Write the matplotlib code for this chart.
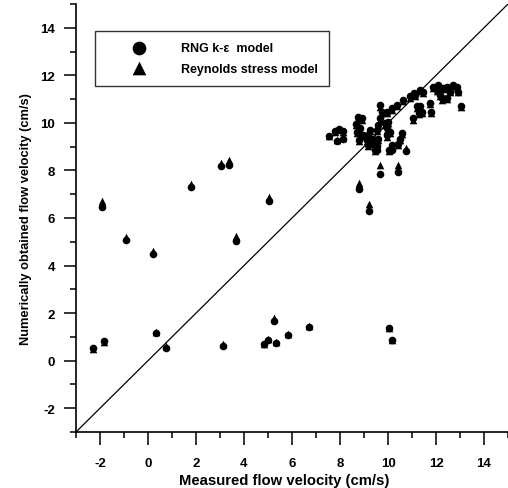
import matplotlib
matplotlib.use("Agg")
import matplotlib.pyplot as plt
from matplotlib.ticker import MultipleLocator

plt.rcParams['font.family'] = ['Liberation Sans', 'DejaVu Sans']
plt.rcParams['font.weight'] = 'bold'
plt.rcParams['axes.unicode_minus'] = False

# Measured velocity and the two numerical predictions (cm/s)
measured = [
    -2.31, -1.83, -1.90, -0.93, 0.19, 0.33, 0.75, 1.79, 3.03, 3.38, 3.13, 3.68,
    5.05, 4.85, 5.01, 5.33, 5.24, 5.83, 6.69, 10.03, 10.15,
    9.67, 10.43, 8.79, 9.21, 9.53, 10.15, 10.75,
    7.56, 7.79, 7.86, 7.97, 8.11, 8.11,
    8.76, 8.90, 8.67, 8.83, 8.72, 8.97, 8.80,
    9.25, 9.18, 9.39, 9.32, 9.46, 9.60, 9.53,
    9.67, 9.74, 9.67, 9.60, 9.88, 10.01, 9.95, 10.08, 9.95,
    9.95, 10.15, 10.36, 10.64, 10.92, 11.13,
    10.57, 10.50, 10.43, 10.15, 10.05, 9.46, 9.53, 9.18, 9.11,
    11.19, 11.05, 11.08, 11.33, 11.47,
    11.89, 12.03, 12.17, 12.24, 12.31, 12.45, 12.58, 12.72, 12.86, 12.93,
    12.10, 12.45, 11.33, 11.40, 11.30, 11.75, 11.78, 13.04,
]
rng_ke = [
    0.52, 0.83, 6.45, 5.06, 4.50, 1.15, 0.55, 7.30, 8.20, 8.25, 0.60, 5.02,
    6.72, 0.70, 0.88, 0.75, 1.68, 1.06, 1.42, 1.36, 0.85,
    7.86, 7.93, 7.22, 6.31, 8.85, 8.88, 8.82,
    9.44, 9.66, 9.22, 9.74, 9.66, 9.32,
    10.26, 10.19, 9.94, 9.77, 9.63, 9.48, 9.27,
    9.70, 9.48, 9.34, 9.13, 9.20, 9.34, 9.70,
    10.75, 10.47, 10.19, 9.91, 9.98, 10.05, 9.77, 9.63, 9.48,
    10.47, 10.61, 10.75, 10.97, 11.11, 11.18,
    9.57, 9.34, 9.13, 9.06, 8.85, 8.85, 9.03, 9.06, 9.27,
    10.69, 10.19, 11.25, 11.39, 11.29,
    11.53, 11.39, 11.18, 11.04, 11.47, 11.53, 11.32, 11.60, 11.53, 11.32,
    11.60, 11.04, 10.69, 10.47, 10.41, 10.83, 10.47, 10.71,
]
reynolds_stress = [
    0.50, 0.80, 6.73, 5.18, 4.60, 1.20, 0.63, 7.42, 8.32, 8.43, 0.68, 5.25,
    6.87, 0.72, 0.92, 0.78, 1.78, 1.14, 1.44, 1.38, 0.88,
    8.22, 8.22, 7.47, 6.59, 8.95, 9.00, 8.95,
    9.44, 9.62, 9.28, 9.72, 9.62, 9.38,
    10.20, 10.12, 9.90, 9.72, 9.58, 9.44, 9.22,
    9.65, 9.45, 9.30, 9.10, 9.16, 9.30, 9.64,
    10.68, 10.40, 10.14, 9.86, 9.92, 10.00, 9.72, 9.58, 9.42,
    10.42, 10.56, 10.70, 10.92, 11.05, 11.12,
    9.52, 9.30, 9.08, 9.02, 8.80, 8.82, 9.00, 9.02, 9.22,
    10.62, 10.12, 11.20, 11.34, 11.24,
    11.48, 11.34, 11.12, 10.98, 11.42, 11.48, 11.28, 11.55, 11.48, 11.28,
    11.55, 11.00, 10.64, 10.42, 10.36, 10.78, 10.42, 10.66,
]

x_limits = (-3, 15)
y_limits = (-3, 15)
major_ticks = [-2, 0, 2, 4, 6, 8, 10, 12, 14]

fig = plt.figure(figsize=(5.08, 4.89), dpi=100)
ax = fig.add_axes([76 / 508, 1 - 433 / 489, 432 / 508, 428 / 489])

ax.scatter(measured, reynolds_stress, marker='^', s=30, color='black',
           linewidths=0, label='Reynolds stress model', zorder=3)
ax.scatter(measured, rng_ke, marker='o', s=30, color='black',
           linewidths=0, label='RNG k-ε  model', zorder=4)

# line of perfect agreement
ax.plot(x_limits, y_limits, color='black', lw=0.9, zorder=2)

ax.set_xlim(*x_limits)
ax.set_ylim(*y_limits)
ax.set_xticks(major_ticks)
ax.set_yticks(major_ticks)
ax.xaxis.set_minor_locator(MultipleLocator(1))
ax.yaxis.set_minor_locator(MultipleLocator(1))
ax.tick_params(which='major', direction='out', length=9, width=1.1,
               labelsize=9.5)
ax.tick_params(axis='x', which='major', pad=9)
ax.tick_params(axis='y', which='major', pad=6)
ax.tick_params(which='minor', direction='out', length=4.5, width=1.1)
for lab in ax.get_xticklabels() + ax.get_yticklabels():
    lab.set_fontweight('bold')

for side in ('top', 'right'):
    ax.spines[side].set_visible(False)
for side in ('left', 'bottom'):
    ax.spines[side].set_linewidth(1.2)

ax.set_xlabel('Measured flow velocity (cm/s)', fontsize=10.7,
              fontweight='bold')
ax.xaxis.set_label_coords(0.481, -0.095)
ax.set_ylabel('Numerically obtained flow velocity (cm/s)', fontsize=9.3,
              fontweight='bold', labelpad=6)

handles, labels = ax.get_legend_handles_labels()
leg = ax.legend(handles[::-1], labels[::-1], loc='upper left',
                bbox_to_anchor=(0.044, 0.937), borderaxespad=0,
                frameon=True, fancybox=False, edgecolor='black',
                prop={'weight': 'bold', 'size': 9}, markerscale=1.8,
                handlelength=5.3, handletextpad=0.7, borderpad=0.9,
                labelspacing=0.68)
leg.get_frame().set_linewidth(1.0)

fig.savefig('out.png', dpi=100)
